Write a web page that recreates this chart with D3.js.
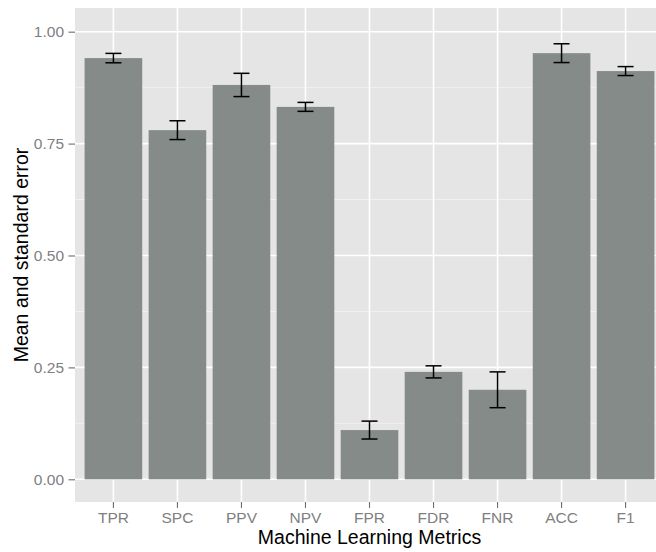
<!DOCTYPE html>
<html>
<head>
<meta charset="utf-8">
<script src="https://cdn.jsdelivr.net/npm/d3@7"></script>
<style>
  html, body { margin: 0; padding: 0; background: #ffffff; }
  svg { display: block; font-family: "Liberation Sans", Arial, Helvetica, sans-serif; }
</style>
</head>
<body>
<svg id="chart" width="656" height="552"></svg>
<script>
// Metric names along the x axis
const categories = ["TPR", "SPC", "PPV", "NPV", "FPR", "FDR", "FNR", "ACC", "F1"];
// Mean value of each metric
const means = [0.941, 0.780, 0.881, 0.832, 0.110, 0.240, 0.200, 0.952, 0.912];
// Standard error of each metric
const stdErrors = [0.0105, 0.021, 0.026, 0.010, 0.020, 0.0135, 0.040, 0.021, 0.010];
// Y axis tick values
const yTicks = [0, 0.25, 0.5, 0.75, 1.0];
const yMinorTicks = [0.125, 0.375, 0.625, 0.875];

const svg = d3.select("#chart");

const panel = { left: 75, top: 8, right: 664, bottom: 502 };

const x = d3.scaleBand()
  .domain(categories)
  .range([panel.left, panel.right])
  .paddingInner(0.1)
  .paddingOuter(0.15);

const y = d3.scaleLinear()
  .domain([-0.0507, 1.0529])
  .range([panel.bottom, panel.top]);

// Panel background
svg.append("rect")
  .attr("x", panel.left)
  .attr("y", panel.top)
  .attr("width", panel.right - panel.left)
  .attr("height", panel.bottom - panel.top)
  .attr("fill", "#e5e5e5");

// Minor horizontal grid
svg.append("g").selectAll("line")
  .data(yMinorTicks)
  .join("line")
  .attr("x1", panel.left).attr("x2", panel.right)
  .attr("y1", d => y(d)).attr("y2", d => y(d))
  .attr("stroke", "#f2f2f2")
  .attr("stroke-width", 0.9);

// Major horizontal grid
svg.append("g").selectAll("line")
  .data(yTicks)
  .join("line")
  .attr("x1", panel.left).attr("x2", panel.right)
  .attr("y1", d => y(d)).attr("y2", d => y(d))
  .attr("stroke", "#ffffff")
  .attr("stroke-width", 1.6);

// Vertical grid at each category
const cx = d => x(d) + x.bandwidth() / 2;
svg.append("g").selectAll("line")
  .data(categories)
  .join("line")
  .attr("x1", d => cx(d)).attr("x2", d => cx(d))
  .attr("y1", panel.top).attr("y2", panel.bottom)
  .attr("stroke", "#ffffff")
  .attr("stroke-width", 1.6);

const rows = categories.map((c, i) => ({ c, m: means[i], se: stdErrors[i] }));

// Bars
svg.append("g").selectAll("rect")
  .data(rows)
  .join("rect")
  .attr("x", d => x(d.c))
  .attr("width", x.bandwidth())
  .attr("y", d => y(d.m))
  .attr("height", d => y(0) - y(d.m))
  .attr("fill", "#848b89");

// Error bars
const capHalf = x.step() * 0.125;
const eb = svg.append("g")
  .attr("stroke", "#000000")
  .attr("stroke-width", 1.5)
  .attr("fill", "none");
rows.forEach(d => {
  const xc = cx(d.c);
  const top = y(d.m + d.se), bot = y(d.m - d.se);
  eb.append("line").attr("x1", xc).attr("x2", xc).attr("y1", top).attr("y2", bot);
  eb.append("line").attr("x1", xc - capHalf).attr("x2", xc + capHalf).attr("y1", top).attr("y2", top);
  eb.append("line").attr("x1", xc - capHalf).attr("x2", xc + capHalf).attr("y1", bot).attr("y2", bot);
});

// Axes
const yAxis = svg.append("g")
  .attr("transform", `translate(${panel.left},0)`)
  .call(d3.axisLeft(y).tickValues(yTicks).tickFormat(d3.format(".2f")).tickSize(6.5).tickPadding(4.5));

const xAxis = svg.append("g")
  .attr("transform", `translate(0,${panel.bottom})`)
  .call(d3.axisBottom(x).tickSize(6).tickPadding(4));

[yAxis, xAxis].forEach(a => {
  a.select(".domain").remove();
  a.selectAll(".tick line").attr("stroke", "#6e6e6e").attr("stroke-width", 1.1);
  a.selectAll(".tick text")
    .attr("fill", "#7f7f7f")
    .style("font-size", "15.5px")
    .style("font-family", "'Liberation Sans', Arial, sans-serif");
});

// Axis titles
svg.append("text")
  .attr("x", (panel.left + panel.right) / 2)
  .attr("y", 544)
  .attr("text-anchor", "middle")
  .attr("fill", "#000000")
  .style("font-size", "19.5px")
  .text("Machine Learning Metrics");

svg.append("text")
  .attr("transform", `translate(27.5,${(panel.top + panel.bottom) / 2}) rotate(-90)`)
  .attr("text-anchor", "middle")
  .attr("fill", "#000000")
  .style("font-size", "19.5px")
  .text("Mean and standard error");
</script>
</body>
</html>
